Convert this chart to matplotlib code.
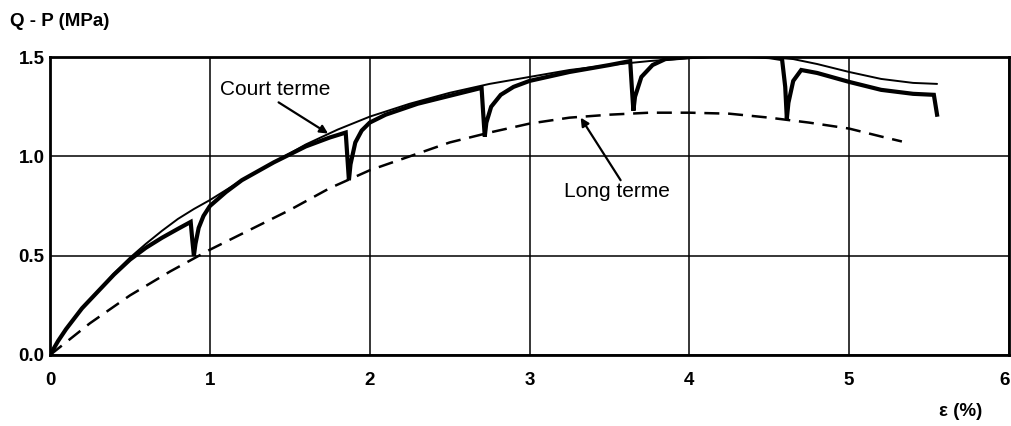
import matplotlib
matplotlib.use("Agg")
import matplotlib.pyplot as plt
from matplotlib.transforms import ScaledTranslation

# Short-term envelope (thin line)
court_x = [0, 0.05, 0.1, 0.2, 0.3, 0.4, 0.5, 0.6, 0.7, 0.8, 0.9, 1.0, 1.2, 1.4, 1.6, 1.8, 2.0,
           2.25, 2.5, 2.75, 3.0, 3.25, 3.5, 3.75, 4.0, 4.25, 4.5, 4.65, 4.8, 5.0, 5.2, 5.4, 5.55]
court_y = [0, 0.07, 0.13, 0.235, 0.32, 0.41, 0.49, 0.56, 0.625, 0.685, 0.735, 0.78, 0.88, 0.97,
           1.06, 1.135, 1.2, 1.265, 1.32, 1.365, 1.40, 1.435, 1.46, 1.48, 1.495, 1.505, 1.5,
           1.49, 1.465, 1.425, 1.39, 1.37, 1.365]

# Test curve with creep stages (thick line)
essai_x = [0, 0.05, 0.1, 0.2, 0.3, 0.4, 0.5, 0.6, 0.7, 0.8, 0.88, 0.89, 0.9, 0.91, 0.93, 0.96,
           1.0, 1.1, 1.2, 1.4, 1.6, 1.75, 1.85, 1.86, 1.87, 1.88, 1.91, 1.95, 2.0, 2.1, 2.3,
           2.5, 2.7, 2.71, 2.72, 2.73, 2.76, 2.82, 2.9, 3.0, 3.25, 3.5, 3.63, 3.64, 3.65, 3.66,
           3.7, 3.77, 3.85, 4.0, 4.25, 4.5, 4.58, 4.6, 4.61, 4.62, 4.65, 4.7, 4.8, 5.0, 5.2,
           5.4, 5.53, 5.55]
essai_y = [0, 0.07, 0.13, 0.235, 0.32, 0.405, 0.48, 0.54, 0.59, 0.635, 0.67, 0.58, 0.5, 0.56,
           0.64, 0.7, 0.75, 0.82, 0.88, 0.97, 1.05, 1.095, 1.12, 1.0, 0.88, 0.96, 1.07, 1.13,
           1.17, 1.21, 1.265, 1.305, 1.345, 1.22, 1.1, 1.17, 1.25, 1.31, 1.35, 1.38, 1.425,
           1.46, 1.48, 1.35, 1.23, 1.3, 1.4, 1.46, 1.49, 1.5, 1.51, 1.5, 1.49, 1.35, 1.19,
           1.27, 1.38, 1.435, 1.42, 1.375, 1.335, 1.315, 1.31, 1.21]

# Long-term envelope (dashed)
long_x = [0, 0.25, 0.5, 0.75, 1.0, 1.25, 1.5, 1.75, 2.0, 2.25, 2.5, 2.75, 3.0, 3.25, 3.5,
          3.75, 4.0, 4.25, 4.5, 4.75, 5.0, 5.2, 5.33]
long_y = [0, 0.16, 0.3, 0.42, 0.53, 0.63, 0.73, 0.84, 0.93, 1.0, 1.07, 1.12, 1.165, 1.195,
          1.21, 1.22, 1.22, 1.215, 1.195, 1.17, 1.14, 1.1, 1.075]

x_ticks = [0, 1, 2, 3, 4, 5, 6]
y_ticks = [0.0, 0.5, 1.0, 1.5]
y_tick_labels = ["0.0", "0.5", "1.0", "1.5"]

plt.rcParams['font.family'] = ['Liberation Sans', 'DejaVu Sans']

fig = plt.figure(figsize=(10.11, 4.26), dpi=100)
ax = fig.add_axes([0.0495, 0.1667, 0.9485, 0.6993])
ax.set_xlim(0, 6)
ax.set_ylim(0, 1.5)

ax.plot(court_x, court_y, color='black', lw=1.4, solid_capstyle='round')
ax.plot(essai_x, essai_y, color='black', lw=3.0, solid_joinstyle='miter')
ax.plot(long_x, long_y, color='black', lw=1.8, dashes=(6, 3.5))

ax.set_xticks(x_ticks)
ax.set_yticks(y_ticks)
ax.set_yticklabels(y_tick_labels)
ax.grid(True, color='black', lw=1.1)
ax.set_axisbelow(True)
ax.tick_params(axis='both', length=0, labelsize=13.5)
ax.tick_params(axis='x', pad=12)
ax.tick_params(axis='y', pad=4)
for lbl in ax.get_xticklabels() + ax.get_yticklabels():
    lbl.set_fontweight('bold')
# keep the last x label inside the figure
last = ax.get_xticklabels()[-1]
last.set_transform(last.get_transform() + ScaledTranslation(-4 / 100, 0, fig.dpi_scale_trans))
for s in ax.spines.values():
    s.set_linewidth(2.0)

ax.text(1.41, 1.335, "Court terme", ha='center', va='center', fontsize=15)
ax.annotate("", xy=(1.74, 1.115), xytext=(1.43, 1.272),
            arrowprops=dict(arrowstyle='-|>', color='black', lw=1.6,
                            shrinkA=0, shrinkB=0, mutation_scale=12))
ax.text(3.55, 0.825, "Long terme", ha='center', va='center', fontsize=15)
ax.annotate("", xy=(3.32, 1.195), xytext=(3.57, 0.88),
            arrowprops=dict(arrowstyle='-|>', color='black', lw=1.6,
                            shrinkA=0, shrinkB=0, mutation_scale=12))

fig.text(0.01, 0.95, "Q - P (MPa)", fontsize=13.5, fontweight='bold', ha='left', va='center')
fig.text(0.95, 0.035, "ε (%)", fontsize=13.5, fontweight='bold', ha='center', va='center')

fig.savefig("out.png", dpi=100)
